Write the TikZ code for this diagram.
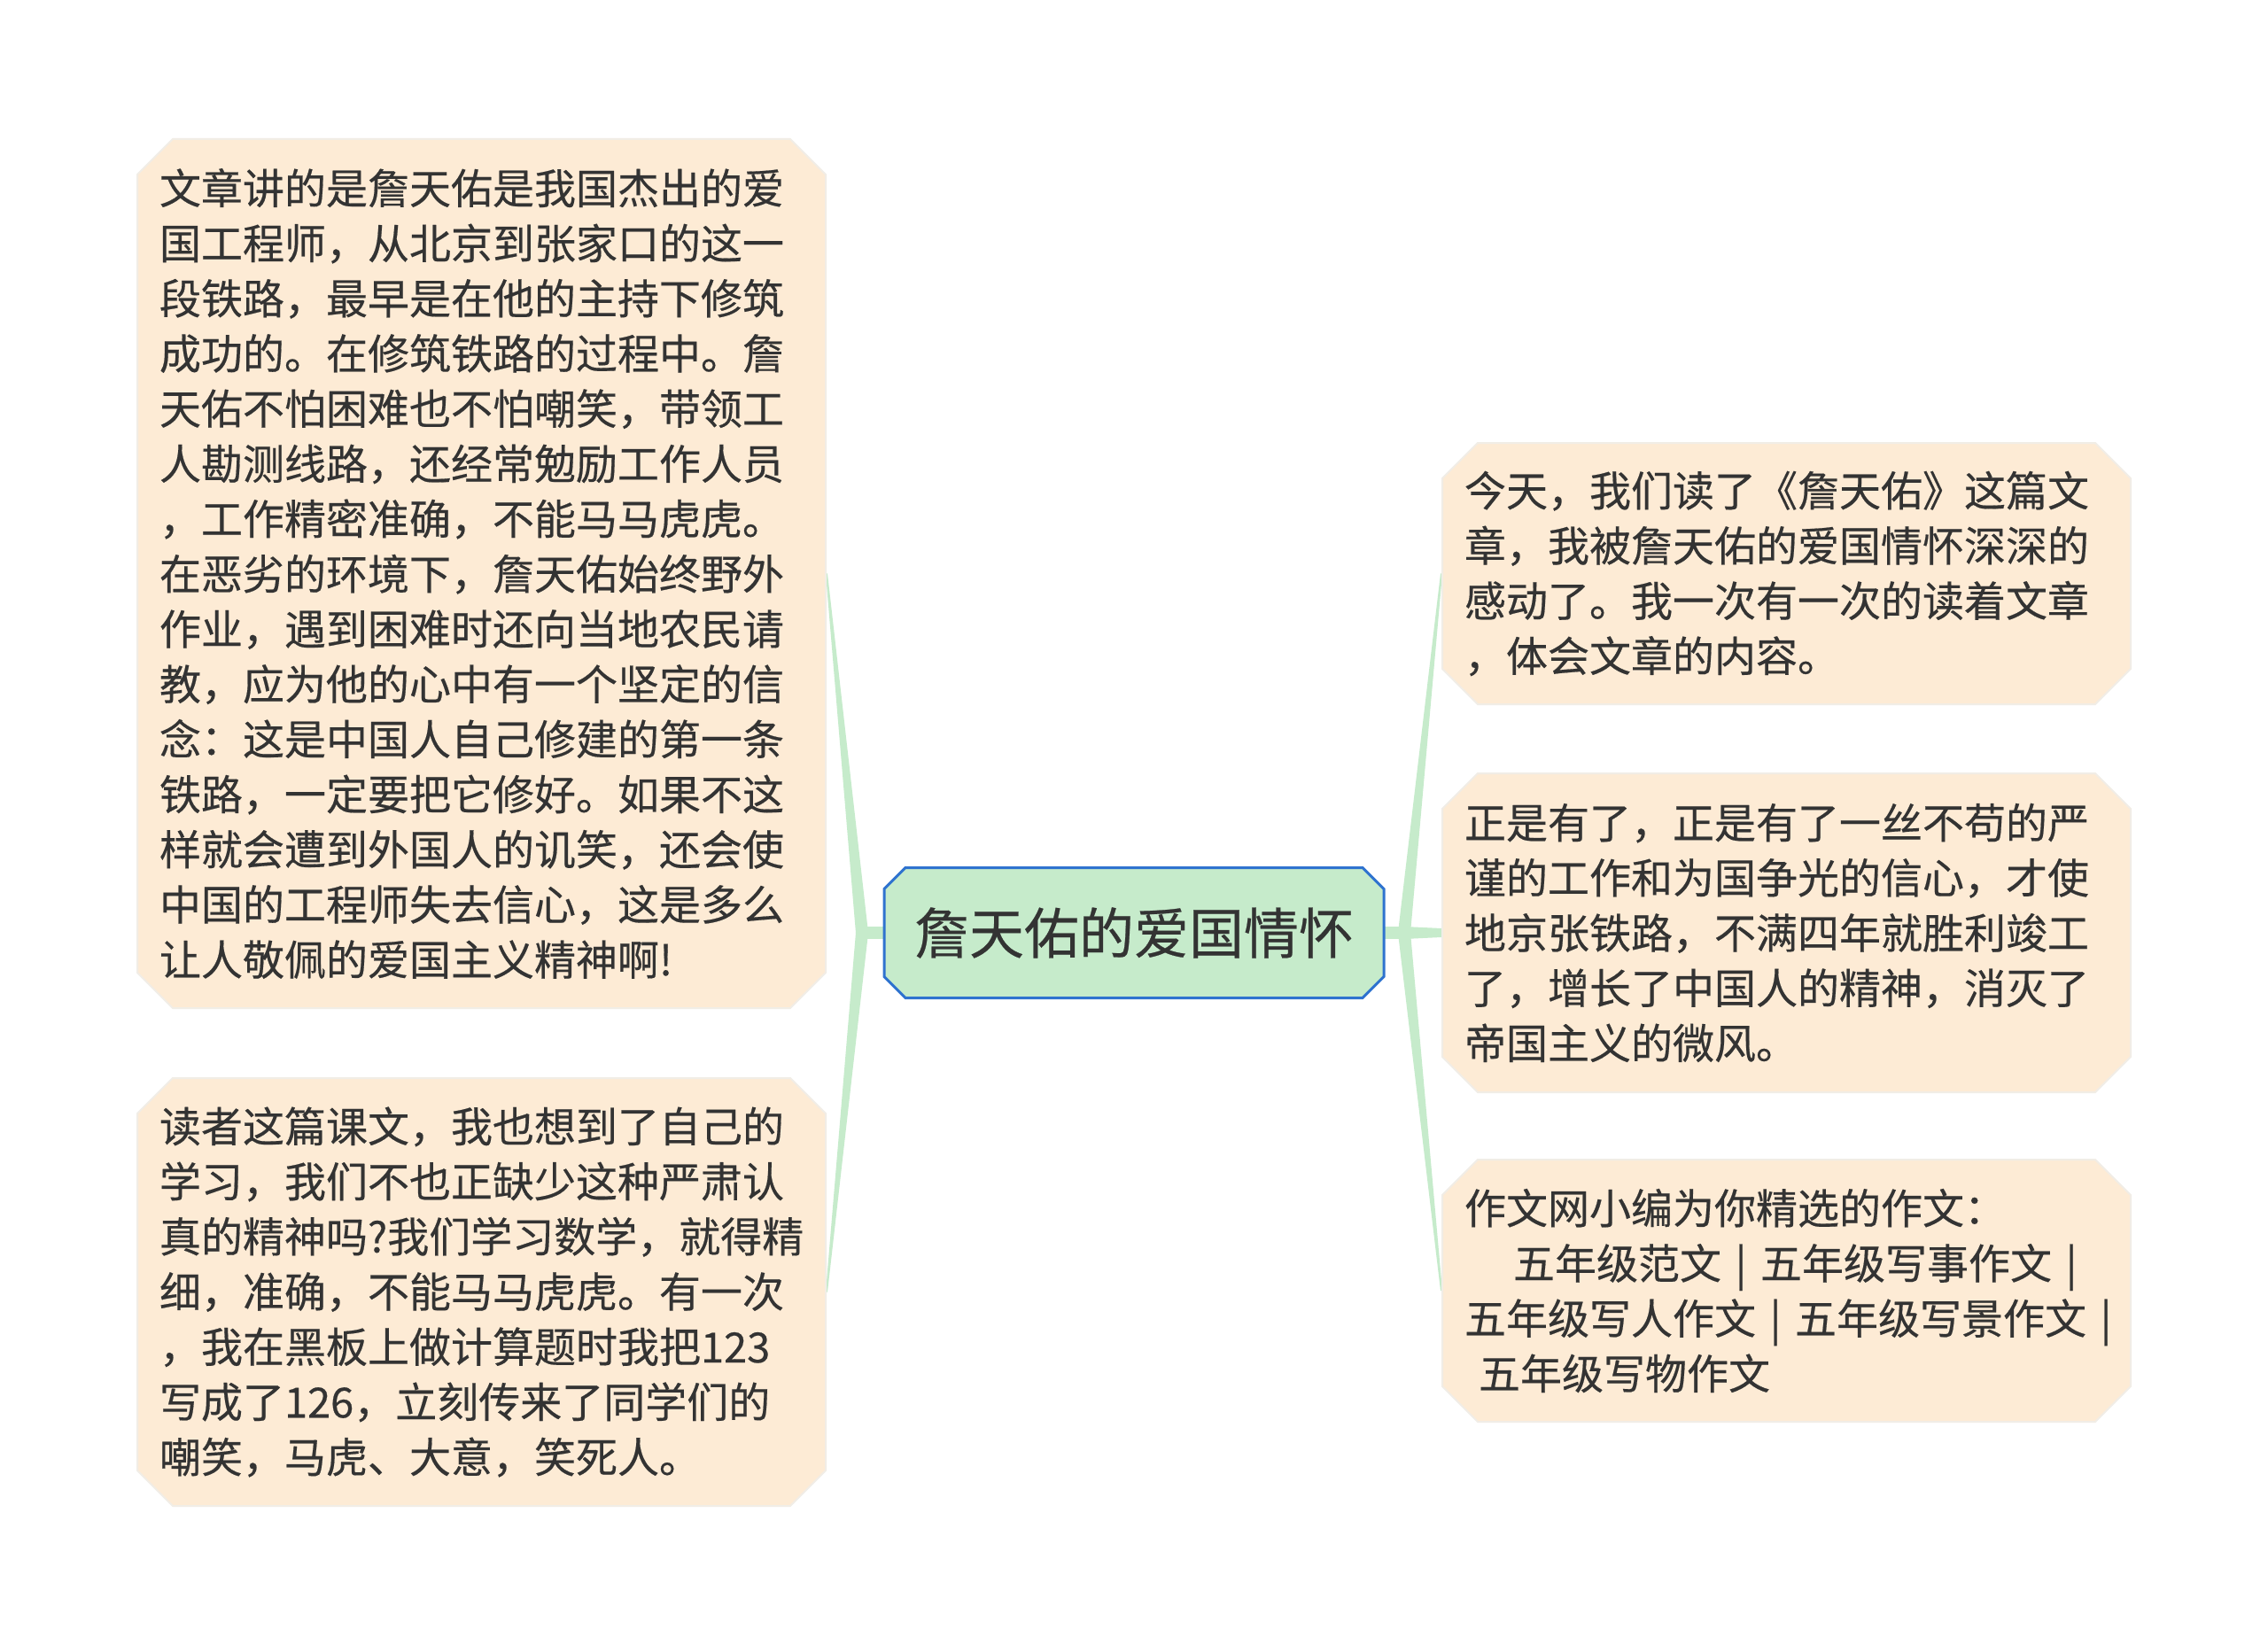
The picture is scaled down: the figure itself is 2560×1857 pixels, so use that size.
\documentclass[tikz,border=0pt]{standalone}
\usepackage{fontspec}
\setmainfont[FakeBold=0.4]{Noto Sans CJK SC}
\usetikzlibrary{shapes.misc,calc,backgrounds}
\definecolor{leaffill}{HTML}{FDEBD5}
\definecolor{leafline}{HTML}{F1EDE6}
\definecolor{rootfill}{HTML}{C6EBCB}
\definecolor{rootline}{HTML}{2F73CF}
\definecolor{conncol}{HTML}{C6EBCB}
\definecolor{txt}{HTML}{333333}
\newcommand\taperline[4]{\fill[conncol] ($(#1)!#3!90:(#2)$) -- ($(#2)!#4!-90:(#1)$) -- ($(#2)!#4!90:(#1)$) -- ($(#1)!#3!-90:(#2)$) -- cycle;}
\begin{document}
\begin{tikzpicture}[x=1pt,y=-1pt,
  leaf/.style={chamfered rectangle, chamfered rectangle xsep=20pt, chamfered rectangle ysep=20pt,
    fill=leaffill, draw=leafline, line width=2pt, text=txt,
    font=\fontsize{47}{62.2}\selectfont, align=left, inner xsep=5pt, inner ysep=0pt,
    text width=727pt},
  rootbox/.style={chamfered rectangle, chamfered rectangle xsep=12pt, chamfered rectangle ysep=12pt,
    fill=rootfill, draw=rootline, line width=3pt, text=txt,
    font=\fontsize{62}{70}\selectfont, inner sep=0pt, minimum width=564pt, minimum height=147pt}]
\useasboundingbox (0,0) rectangle (2560,1857);

\node[rootbox] (root) at (1280,1053) {詹天佑的爱国情怀};

\node[leaf, minimum height=981pt] (L1) at (543.5,647.5) {文章讲的是詹天佑是我国杰出的爱\\
国工程师，从北京到张家口的这一\\
段铁路，最早是在他的主持下修筑\\
成功的。在修筑铁路的过程中。詹\\
天佑不怕困难也不怕嘲笑，带领工\\
人勘测线路，还经常勉励工作人员\\
，工作精密准确，不能马马虎虎。\\
在恶劣的环境下，詹天佑始终野外\\
作业，遇到困难时还向当地农民请\\
教，应为他的心中有一个坚定的信\\
念：这是中国人自己修建的第一条\\
铁路，一定要把它修好。如果不这\\
样就会遭到外国人的讥笑，还会使\\
中国的工程师失去信心，这是多么\\
让人敬佩的爱国主义精神啊!};

\node[leaf, minimum height=483pt] (L2) at (543.5,1458.5) {读者这篇课文，我也想到了自己的\\
学习，我们不也正缺少这种严肃认\\
真的精神吗?我们学习数学，就得精\\
细，准确，不能马马虎虎。有一次\\
，我在黑板上做计算题时我把123\\
写成了126，立刻传来了同学们的\\
嘲笑，马虎、大意，笑死人。};

\node[leaf, minimum height=295pt] (R1) at (2016.5,647.5) {今天，我们读了《詹天佑》这篇文\\
章，我被詹天佑的爱国情怀深深的\\
感动了。我一次有一次的读着文章\\
，体会文章的内容。};

\node[leaf, minimum height=360pt] (R2) at (2016.5,1053) {正是有了，正是有了一丝不苟的严\\
谨的工作和为国争光的信心，才使\\
地京张铁路，不满四年就胜利竣工\\
了，增长了中国人的精神，消灭了\\
帝国主义的微风。};

\node[leaf, minimum height=296pt] (R3) at (2016.5,1457) {作文网小编为你精选的作文：\\
\hspace*{55pt}五年级范文~|~五年级写事作文~|\\
五年级写人作文~|~五年级写景作文~|\\
\hspace*{16pt}五年级写物作文};

\coordinate (HL) at (973,1053);
\coordinate (HR) at (1585,1053);

\begin{scope}[on background layer]
\fill[white] (0,0) rectangle (2560,1857);
\fill[conncol] ($(root.west)+(2,-7)$) rectangle ($(HL)+(0,7)$);
\fill[conncol] ($(root.east)+(-2,-7)$) rectangle ($(HR)+(0,7)$);
\taperline{HL}{L1.east}{7pt}{1pt}
\taperline{HL}{L2.east}{7pt}{1pt}
\taperline{HR}{R1.west}{7pt}{1pt}
\taperline{HR}{R2.west}{7pt}{5pt}
\taperline{HR}{R3.west}{7pt}{1pt}
\end{scope}
\end{tikzpicture}
\end{document}
